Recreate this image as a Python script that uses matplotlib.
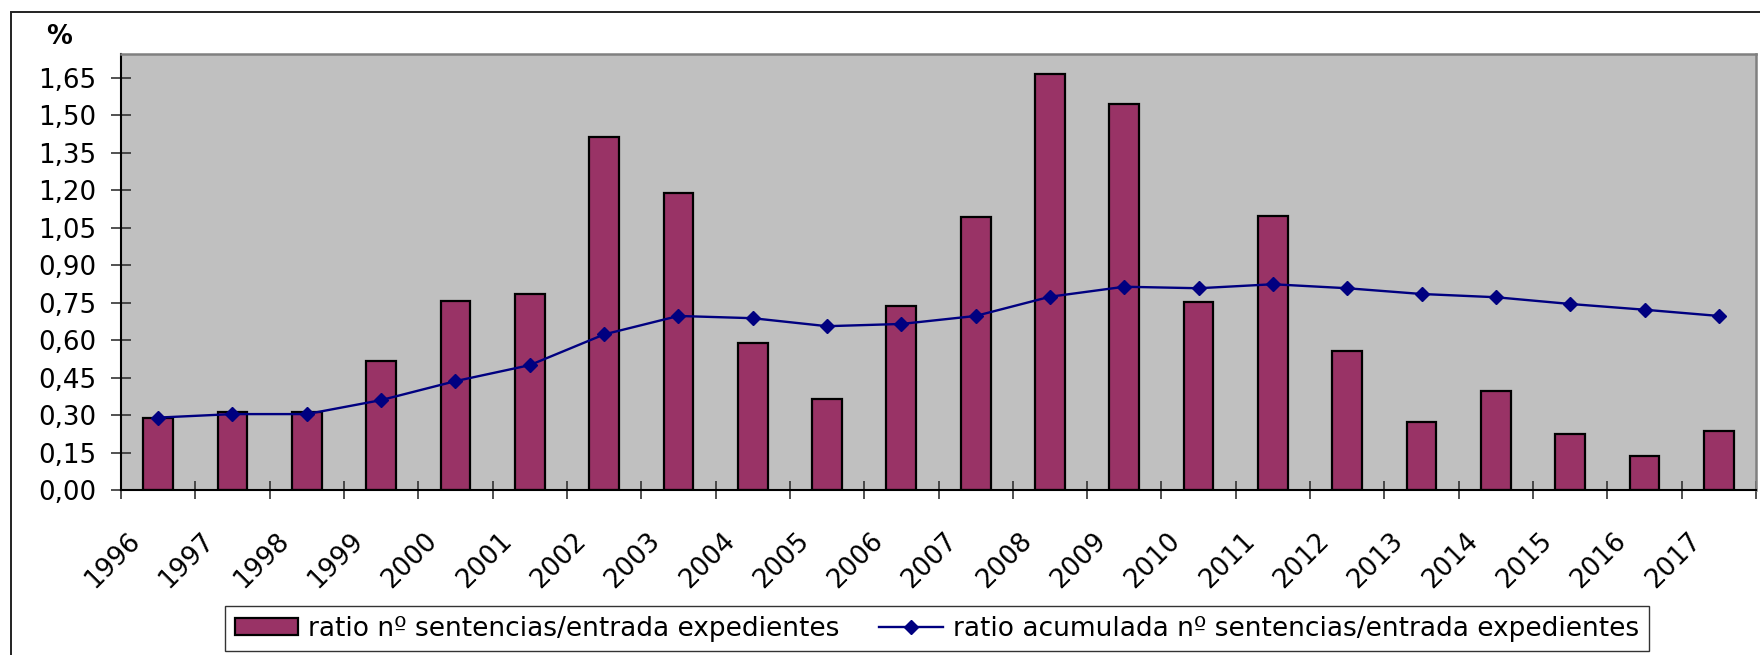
import numpy as np
import matplotlib
matplotlib.use("Agg")
import matplotlib.pyplot as plt
from matplotlib.patches import Rectangle
from matplotlib.transforms import ScaledTranslation
from matplotlib.ticker import FuncFormatter

years = ["1996", "1997", "1998", "1999", "2000", "2001", "2002", "2003", "2004", "2005", "2006",
         "2007", "2008", "2009", "2010", "2011", "2012", "2013", "2014", "2015", "2016", "2017"]
ratio = [0.29, 0.314, 0.314, 0.517, 0.758, 0.784, 1.415, 1.188, 0.589, 0.364, 0.737,
         1.092, 1.666, 1.545, 0.751, 1.099, 0.558, 0.274, 0.396, 0.225, 0.137, 0.238]
ratio_acum = [0.29, 0.304, 0.304, 0.36, 0.436, 0.50, 0.623, 0.697, 0.688, 0.656, 0.665,
              0.697, 0.774, 0.814, 0.808, 0.824, 0.808, 0.785, 0.772, 0.745, 0.722, 0.697]
yticks = [0.0, 0.15, 0.30, 0.45, 0.60, 0.75, 0.90, 1.05, 1.20, 1.35, 1.50, 1.65]
label_bar = "ratio nº sentencias/entrada expedientes"
label_line = "ratio acumulada nº sentencias/entrada expedientes"

plt.rcParams['font.family'] = ['DejaVu Sans']

W, H = 1760, 655
fig = plt.figure(figsize=(W / 100, H / 100), dpi=100)
fig.patch.set_facecolor('white')

# outer chart frame
fig.patches.append(Rectangle((10.5 / W, -0.2), 1.5, 1 - 12 / H + 0.2, transform=fig.transFigure,
                             fill=False, ec='#222222', lw=1.4))

ax = fig.add_axes([121 / W, 1 - 490 / H, (1756 - 121) / W, (490 - 54) / H])
ax.set_facecolor('#C0C0C0')

x = np.arange(len(years))
bars = ax.bar(x, ratio, width=0.4, color='#993366', edgecolor='black', linewidth=1.6,
              label=label_bar, zorder=2)
line, = ax.plot(x, ratio_acum, color='#000080', lw=1.7, marker='D', markersize=7.5,
                markerfacecolor='#000080', markeredgecolor='#000080', label=label_line, zorder=3)

ax.set_xlim(-0.5, len(years) - 0.5)
ax.set_ylim(0, (490 - 54) / 249.7)

ax.set_yticks(yticks)
ax.yaxis.set_major_formatter(FuncFormatter(lambda v, p: f"{v:.2f}".replace('.', ',')))
ax.tick_params(axis='y', direction='inout', length=15, width=1.2, pad=10, labelsize=18.8,
               color='#333333')

ax.set_xticks(x)
ax.set_xticklabels(years, rotation=45, ha='right', va='center', rotation_mode='anchor',
                   fontsize=18.8)
ax.tick_params(axis='x', which='major', length=0, pad=34)
ax.set_xticks(np.arange(-0.5, len(years), 1), minor=True)
ax.tick_params(axis='x', which='minor', direction='inout', length=12.7, width=1.2,
               color='#333333')
offset = ScaledTranslation(-22 / 100, 0, fig.dpi_scale_trans)
for lab in ax.get_xticklabels():
    lab.set_transform(lab.get_transform() + offset)

for s in ['left', 'bottom']:
    ax.spines[s].set_color('black')
    ax.spines[s].set_linewidth(1.5)
for s in ['top', 'right']:
    ax.spines[s].set_color('#808080')
    ax.spines[s].set_linewidth(1.8)

fig.text(46 / W, 1 - 24 / H, '%', fontsize=18.5, fontweight='bold', ha='left', va='top')

leg = fig.legend([bars, line], [label_bar, label_line], loc='center',
                 bbox_to_anchor=((229 + 1645) / 2 / W, 1 - 628.5 / H),
                 ncol=2, fontsize=19, frameon=True, fancybox=False, edgecolor='black',
                 handlelength=2.4, handleheight=0.6, handletextpad=0.4, columnspacing=1.5,
                 borderpad=0.35)
leg.get_frame().set_linewidth(1.0)

fig.savefig('out.png', dpi=100)
